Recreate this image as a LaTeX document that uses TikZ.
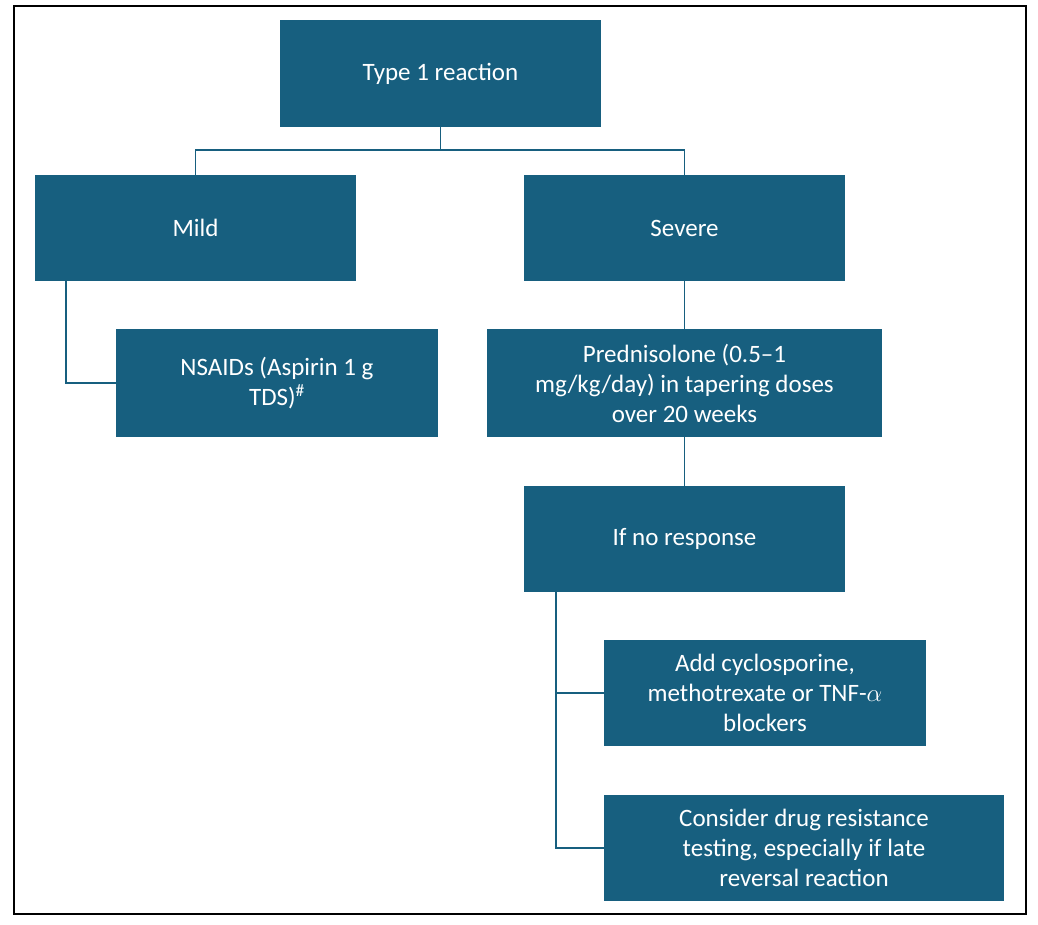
\documentclass[tikz,border=0pt]{standalone}
\usepackage{fontspec}
\setmainfont{Carlito}
\definecolor{boxc}{HTML}{175F7F}
\begin{document}
\begin{tikzpicture}[x=1pt,y=-1pt,
  box/.style={draw=none,fill=boxc,text=white,inner sep=0pt,align=center,
    font=\fontsize{25}{30}\selectfont},
  conn/.style={draw=boxc,line width=1.5pt}]
\useasboundingbox (0,0) rectangle (1038,924);
\draw[line width=1.8pt] (14,6) rectangle (1026,914);
\node[box,minimum width=321pt,minimum height=107pt] (t) at (440.5,73.5) {Type 1 reaction};
\node[box,minimum width=321pt,minimum height=106pt] (m) at (195.5,228) {Mild};
\node[box,minimum width=321pt,minimum height=106pt] (s) at (684.5,228) {Severe};
\node[box,minimum width=322pt,minimum height=108pt] (n) at (277,383) {NSAIDs (Aspirin 1 g\\TDS)\textsuperscript{\#}};
\node[box,minimum width=395pt,minimum height=108pt] (p) at (684.5,383) {Prednisolone (0.5–1\\mg/kg/day) in tapering doses\\over 20 weeks};
\node[box,minimum width=321pt,minimum height=106pt] (r) at (684.5,539) {If no response};
\node[box,minimum width=322pt,minimum height=106pt] (a) at (765,693) {Add cyclosporine,\\methotrexate or TNF-$\alpha$\\blockers};
\node[box,minimum width=400pt,minimum height=106pt] (c) at (804,848) {Consider drug resistance\\testing, especially if late\\reversal reaction};
\coordinate (j) at (440.5,150);
\draw[conn] (t.south) -- (j);
\draw[conn] (m.north) |- (j) -| (s.north);
\draw[conn] ([xshift=-129.5pt]m.south) |- (n.west);
\draw[conn] (s.south) -- (p.north);
\draw[conn] (p.south) -- (r.north);
\draw[conn] ([xshift=-128.5pt]r.south) |- (a.west);
\draw[conn] ([xshift=-128.5pt]r.south) |- (c.west);
\end{tikzpicture}
\end{document}
